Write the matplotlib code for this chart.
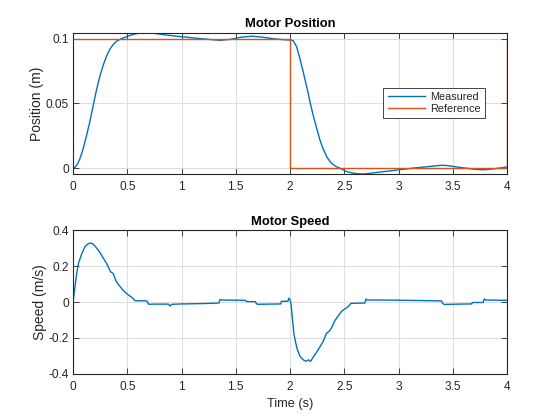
import matplotlib
matplotlib.use("Agg")
import matplotlib.pyplot as plt
from matplotlib.ticker import FuncFormatter

plt.rcParams['font.family'] = ['Liberation Sans', 'DejaVu Sans']
plt.rcParams['axes.unicode_minus'] = False

# ---- data ----
pos_t = [0, 0.02, 0.04, 0.062, 0.09, 0.124, 0.155, 0.185, 0.215, 0.247,
         0.28, 0.309, 0.34, 0.37, 0.40, 0.432, 0.46, 0.5, 0.55, 0.6,
         0.67, 0.75, 0.85, 0.95, 1.05, 1.15, 1.25, 1.35, 1.45, 1.55,
         1.65, 1.75, 1.85, 1.95, 2.0, 2.01, 2.03, 2.06, 2.09, 2.12,
         2.145, 2.167, 2.19, 2.213, 2.245, 2.275, 2.305, 2.337, 2.37, 2.4,
         2.43, 2.46, 2.52, 2.58, 2.64, 2.68, 2.75, 2.85, 2.95, 3.05,
         3.15, 3.25, 3.4, 3.45, 3.55, 3.65, 3.72, 3.78, 3.85, 3.95, 4.0]
pos_meas = [0, 0.0008, 0.003, 0.007, 0.014, 0.025, 0.036, 0.048, 0.060, 0.071,
            0.080, 0.0866, 0.092, 0.0955, 0.098, 0.0995, 0.1005, 0.1018, 0.1033, 0.1042,
            0.1047, 0.1042, 0.1030, 0.1020, 0.1012, 0.1003, 0.0995, 0.0988, 0.0995, 0.1012,
            0.1020, 0.1012, 0.1000, 0.0992, 0.0990, 0.0991, 0.0985, 0.094, 0.085, 0.075,
            0.066, 0.058, 0.049, 0.041, 0.031, 0.022, 0.015, 0.009, 0.005, 0.0026,
            0.001, 0.0, -0.0026, -0.0038, -0.0044, -0.0045, -0.0038, -0.0028, -0.0018, -0.0008,
            0.0002, 0.0010, 0.0023, 0.0020, 0.0008, -0.0003, -0.0010, -0.0012, -0.0008, 0.0003, 0.0010]

ref_t = [0, 2, 2, 4, 4]
ref_pos = [0.1, 0.1, 0, 0, 0.1]

speed_t = [0, 0.01, 0.018, 0.034, 0.05, 0.08, 0.11, 0.14, 0.16, 0.18,
           0.2, 0.22, 0.245, 0.265, 0.29, 0.31, 0.33, 0.345, 0.37, 0.40,
           0.43, 0.46, 0.49, 0.51, 0.535, 0.555, 0.57, 0.62, 0.68, 0.69,
           0.70, 0.75, 0.88, 0.895, 0.91, 1.0, 1.2, 1.345, 1.355, 1.37,
           1.5, 1.59, 1.60, 1.68, 1.69, 1.70, 1.80, 1.915, 1.92, 1.98,
           1.99, 2.0, 2.01, 2.02, 2.035, 2.05, 2.065, 2.09, 2.11, 2.13,
           2.15, 2.17, 2.19, 2.21, 2.245, 2.275, 2.305, 2.335, 2.365, 2.39,
           2.41, 2.44, 2.475, 2.5, 2.52, 2.545, 2.56, 2.6, 2.69, 2.70,
           2.71, 2.8, 3.0, 3.2, 3.395, 3.405, 3.42, 3.55, 3.675, 3.68,
           3.78, 3.785, 3.79, 3.80, 3.9, 4.0]
speed_v = [0, 0.05, 0.085, 0.16, 0.216, 0.27, 0.31, 0.326, 0.33, 0.326,
           0.315, 0.30, 0.28, 0.26, 0.235, 0.215, 0.19, 0.17, 0.16, 0.113,
           0.09, 0.067, 0.05, 0.04, 0.03, 0.02, 0.008, 0.008, 0.007, -0.005,
           -0.012, -0.011, -0.011, -0.022, -0.012, -0.010, -0.008, -0.005, 0.015, 0.012,
           0.011, 0.010, 0.003, 0.003, -0.008, -0.012, -0.011, -0.010, 0.005, 0.005,
           0.022, 0.015, -0.013, -0.08, -0.175, -0.22, -0.26, -0.30, -0.315, -0.325,
           -0.33, -0.322, -0.33, -0.31, -0.28, -0.25, -0.22, -0.175, -0.16, -0.135,
           -0.107, -0.08, -0.051, -0.04, -0.032, -0.02, -0.007, -0.006, -0.005, 0.018,
           0.012, 0.012, 0.011, 0.009, 0.007, -0.005, -0.013, -0.011, -0.010, -0.002,
           -0.002, 0.01, 0.018, 0.012, 0.011, 0.010]

x_ticks = [0, 0.5, 1, 1.5, 2, 2.5, 3, 3.5, 4]
pos_ticks = [0, 0.05, 0.1]
speed_ticks = [-0.4, -0.2, 0, 0.2, 0.4]

# ---- styling ----
BLUE = '#0072BD'
ORANGE = '#D95319'
TXT = '#262626'
GRID = '#DFDFDF'
FS = 8.6

fig = plt.figure(figsize=(5.6, 4.2), dpi=100)
ax1 = fig.add_axes([0.1304, 0.5857, 0.775, 0.3365])
ax2 = fig.add_axes([0.1304, 0.11, 0.775, 0.3412])

fmt = FuncFormatter(lambda v, p: '%g' % v)

def style(ax):
    ax.set_xlim(0, 4)
    ax.set_xticks(x_ticks)
    ax.xaxis.set_major_formatter(fmt)
    ax.yaxis.set_major_formatter(fmt)
    ax.grid(True, color=GRID, linewidth=0.8)
    ax.set_axisbelow(True)
    ax.tick_params(direction='in', length=4, width=0.6, colors=TXT,
                   labelsize=FS, top=True, right=True)
    ax.tick_params(axis='x', pad=5)
    ax.tick_params(axis='y', pad=3)
    for s in ax.spines.values():
        s.set_color(TXT)
        s.set_linewidth(0.8)

ax1.plot(pos_t, pos_meas, color=BLUE, lw=1.0, label='Measured')
ax1.plot(ref_t, ref_pos, color=ORANGE, lw=1.0, label='Reference')
style(ax1)
ax1.set_ylim(-0.0045, 0.1047)
ax1.set_yticks(pos_ticks)
ax1.set_ylabel('Position (m)', fontsize=10, color=TXT, labelpad=1)
ax1.set_title('Motor Position', fontsize=9.4, fontweight='bold', color='black', pad=4)
leg = ax1.legend(loc='center right', bbox_to_anchor=(0.9486, 0.502), borderaxespad=0,
                 fontsize=7.8, fancybox=False, framealpha=1, edgecolor=TXT,
                 borderpad=0.4, labelspacing=0.15, handlelength=3.5, handletextpad=0.4)
leg.get_frame().set_linewidth(0.6)
for t in leg.get_texts():
    t.set_color(TXT)

ax2.plot(speed_t, speed_v, color=BLUE, lw=1.0)
style(ax2)
ax2.set_ylim(-0.4, 0.4)
ax2.set_yticks(speed_ticks)
ax2.set_ylabel('Speed (m/s)', fontsize=10, color=TXT, labelpad=1)
ax2.set_xlabel('Time (s)', fontsize=9.2, color=TXT, labelpad=4)
ax2.set_title('Motor Speed', fontsize=9.4, fontweight='bold', color='black', pad=4)

fig.savefig('out.png', dpi=100)
